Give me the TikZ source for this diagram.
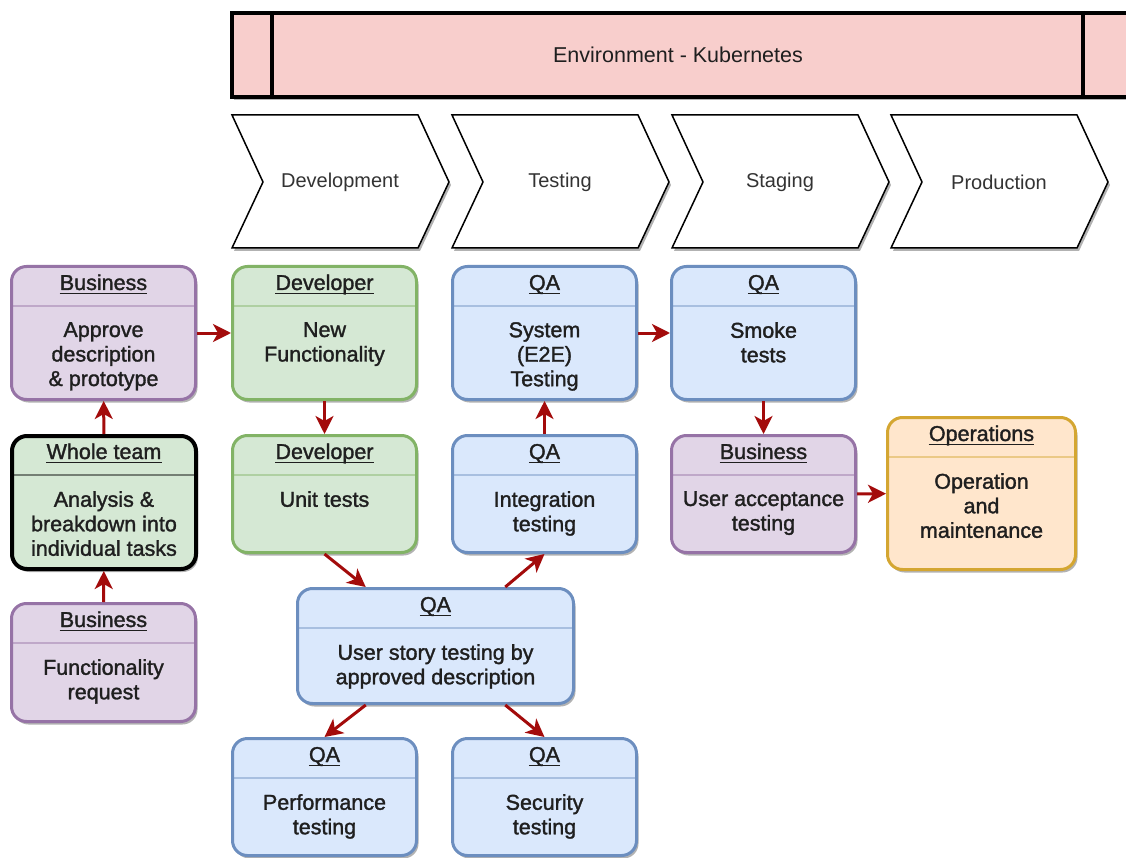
\documentclass[tikz,border=0pt]{standalone}
\usepackage{fontspec}
\setmainfont{Liberation Sans}
\newfontfamily\cardfont{Liberation Sans}[FakeBold=1.5]
\usetikzlibrary{arrows.meta,shadows,calc}

\definecolor{purpFill}{HTML}{E1D5E7}
\definecolor{purpLine}{HTML}{9673A6}
\definecolor{grnFill}{HTML}{D5E8D4}
\definecolor{grnLine}{HTML}{82B366}
\definecolor{bluFill}{HTML}{DAE8FC}
\definecolor{bluLine}{HTML}{6C8EBF}
\definecolor{orgFill}{HTML}{FFE6CC}
\definecolor{orgLine}{HTML}{D4A631}
\definecolor{envFill}{HTML}{F8CECC}
\definecolor{flowRed}{HTML}{A30B0B}
\definecolor{ink}{HTML}{1F1F1F}
\definecolor{stageInk}{HTML}{333333}

% swimlane card: name, x, y (outer top-left), width, height, colour style, header, body
\newcommand\lanecard[8]{%
  \node[lane, #6, minimum width=#4pt, minimum height=#5pt, anchor=north west] (#1) at (#2,#3) {};
  \draw[#6, lanesep] ([yshift=-41pt]#1.north west) -- ([yshift=-41pt]#1.north east);
  \node[hdr] (#1-h) at ([yshift=-25pt]#1.north) {#7};
  \draw[ul] ([yshift=-3.5pt]#1-h.base west) -- ([yshift=-3.5pt]#1-h.base east);
  \node[bodytxt] (#1-b) at ([yshift=-57pt]#1.north) {#8};
}

% stage chevron: name, left x, label
\newcommand\stagechev[3]{%
  \draw[chev] (#2,115) -- ++(186,0) -- ++(31,67) -- ++(-31,66) -- ++(-186,0) -- ++(31,-66) -- cycle;
  \node[stagetxt] (#1) at (#2+108,182) {#3};
}

\begin{document}
\begin{tikzpicture}[x=1pt, y=-1pt,
  font=\fontsize{21.5}{24.5}\selectfont,
  softshadow/.style={drop shadow={shadow xshift=2pt, shadow yshift=-3pt, opacity=0.3, fill=black}},
  lane/.style={rounded corners=15pt, line width=3pt, softshadow},
  purp/.style={draw=purpLine, fill=purpFill},
  grn/.style={draw=grnLine, fill=grnFill},
  blu/.style={draw=bluLine, fill=bluFill},
  org/.style={draw=orgLine, fill=orgFill},
  team/.style={draw=black, fill=grnFill, line width=4pt},
  lanesep/.style={line width=1.2pt, draw opacity=0.45, fill=none, shorten <=2pt, shorten >=2pt},
  hdr/.style={anchor=base, inner sep=0pt, text=ink, font=\cardfont\fontsize{21.5}{24.5}\selectfont},
  ul/.style={draw=ink, line width=1.5pt},
  bodytxt/.style={anchor=north, inner sep=0pt, align=center, text=ink, font=\cardfont\fontsize{21.5}{24.5}\selectfont},
  chev/.style={draw=black, line width=1.5pt, fill=white, line join=miter, softshadow},
  stagetxt/.style={text=stageInk, font=\fontsize{20}{24}\selectfont},
  flow/.style={draw=flowRed, line width=3pt, -{Stealth[length=18pt, width=18pt, inset=5pt]}},
]
\useasboundingbox[fill=white] (0,0) rectangle (1126,858);

% environment banner
\node[draw=black, line width=4pt, fill=envFill, softshadow, minimum width=910pt,
      minimum height=84pt, anchor=north west, inner sep=0pt] (env) at (230,11) {};
\draw[line width=4pt] ([xshift=42pt]env.north west) -- ([xshift=42pt]env.south west);
\draw[line width=4pt] ([xshift=853pt]env.north west) -- ([xshift=853pt]env.south west);
\node[text=ink] (envtxt) at (678,55) {Environment - Kubernetes};

% stages
\stagechev{stDev}{232}{Development}
\stagechev{stTest}{452}{Testing}
\stagechev{stStage}{672}{Staging}
\stagechev{stProd}{891}{Production}

% cards
\lanecard{b1}{10}{265}{184}{133}{purp}{Business}{Approve\\description\\\& prototype}
\lanecard{dev1}{231}{265}{184}{133}{grn}{Developer}{New\\Functionality}
\lanecard{sys}{451}{265}{184}{133}{blu}{QA}{System\\(E2E)\\Testing}
\lanecard{smoke}{670}{265}{184}{133}{blu}{QA}{Smoke\\tests}

\lanecard{wt}{10}{434}{184}{133}{team}{Whole team}{Analysis \&\\breakdown into\\individual tasks}
\lanecard{dev2}{231}{434}{184}{117}{grn}{Developer}{Unit tests}
\lanecard{int}{451}{434}{184}{117}{blu}{QA}{Integration\\testing}
\lanecard{uat}{670}{434}{184}{117}{purp}{Business}{User acceptance\\testing}
\lanecard{ops}{886}{416}{188}{152}{org}{Operations}{Operation\\and\\maintenance}

\lanecard{b3}{10}{602}{184}{118}{purp}{Business}{Functionality\\request}
\lanecard{us}{296}{587}{276}{115}{blu}{QA}{User story testing by\\approved description}
\lanecard{perf}{231}{737}{184}{117}{blu}{QA}{Performance\\testing}
\lanecard{sec}{451}{737}{184}{117}{blu}{QA}{Security\\testing}

% flow
\draw[flow] (b3) -- (wt);
\draw[flow] (wt) -- (b1);
\draw[flow] (b1) -- (dev1);
\draw[flow] (dev1) -- (dev2);
\draw[flow] (dev2.south) -- ($(us.north west)!0.25!(us.north east)$);
\draw[flow] ($(us.north west)!0.75!(us.north east)$) -- (int.south);
\draw[flow] ($(us.south west)!0.25!(us.south east)$) -- (perf.north);
\draw[flow] ($(us.south west)!0.75!(us.south east)$) -- (sec.north);
\draw[flow] (int) -- (sys);
\draw[flow] (sys) -- (smoke);
\draw[flow] (smoke) -- (uat);
\draw[flow] (uat) -- (ops);
\end{tikzpicture}
\end{document}
